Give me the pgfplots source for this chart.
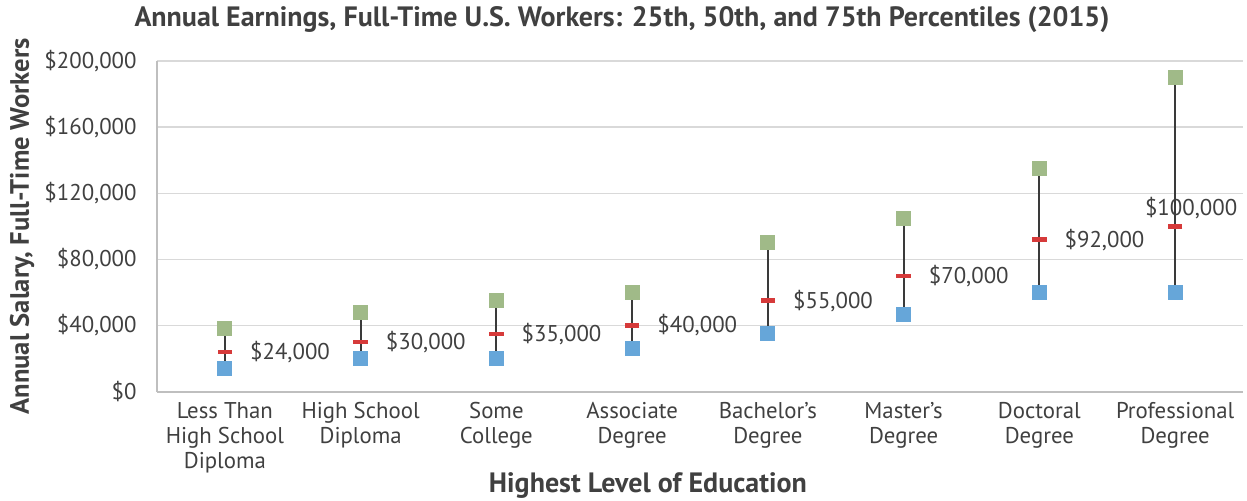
\documentclass[border=0pt]{standalone}
\usepackage{pgfplots}
\usepackage{pgfplotstable}
\pgfplotsset{compat=1.18}
\usepackage{fontspec}
\setmainfont{PT Sans}
\definecolor{txt}{HTML}{404040}
\definecolor{lowc}{HTML}{66A6D9}
\definecolor{highc}{HTML}{A0BA88}
\definecolor{medc}{HTML}{D63A3A}
\definecolor{linec}{HTML}{3A3A3A}
\definecolor{gridc}{HTML}{D9D9D9}
\definecolor{axc}{HTML}{BFBFBF}
\pgfplotstableread{
x low med high
0 14000 24000 38000
1 20000 30000 48000
2 20000 35000 55000
3 26000 40000 60000
4 35000 55000 90000
5 47000 70000 105000
6 60000 92000 135000
7 60000 100000 190000
}\data
\begin{document}
\begin{tikzpicture}
\useasboundingbox (-78.5pt,-54.15pt) rectangle (545pt,195.85pt);
\begin{axis}[
  at={(0,0)}, anchor=south west,
  scale only axis, width=543pt, height=165.35pt,
  xmin=-0.5, xmax=7.5, ymin=0, ymax=200000,
  axis x line*=bottom, axis y line*=left,
  axis line style={draw=axc, line width=1pt},
  xtick={0,...,7},
  xticklabels={{Less Than\\High School\\Diploma},{High School\\Diploma},{Some\\College},{Associate\\Degree},{Bachelor's\\Degree},{Master's\\Degree},{Doctoral\\Degree},{Professional\\Degree}},
  xticklabel style={align=center, font=\fontsize{11.4}{12.5}\selectfont, text=txt, inner sep=0pt, anchor=north, yshift=-5pt},
  ytick={0,40000,...,200000},
  scaled y ticks=false,
  yticklabel={\$\pgfmathprintnumber{\tick}},
  /pgf/number format/.cd, fixed, precision=0, 1000 sep={,}, assume math mode=true,
  /pgfplots/.cd,
  yticklabel style={font=\fontsize{11.4}{12.5}\selectfont, text=txt, inner sep=0pt, anchor=east, xshift=-10pt},
  major tick length=0pt,
  tick style={draw=none},
  ymajorgrids, grid style={draw=gridc, line width=0.75pt},
  title={Annual Earnings, Full-Time U.S. Workers: 25th, 50th, and 75th Percentiles (2015)},
  title style={at={(axis description cs:0.5,1)}, anchor=center, xshift=-39pt, yshift=14.5pt, font=\bfseries\fontsize{14}{16}\selectfont, text=txt},
  xlabel={Highest Level of Education},
  xlabel style={at={(axis description cs:0.5,0)}, anchor=center, xshift=-26pt, yshift=-47pt, font=\bfseries\fontsize{14}{16}\selectfont, text=txt},
  ylabel={Annual Salary, Full-Time Workers},
  ylabel style={at={([xshift=-67.5pt]axis description cs:0,0.5)}, anchor=center, font=\bfseries\fontsize{13.3}{15}\selectfont, text=txt},
]
\addplot[only marks, mark=square*, mark size=3.5pt, color=lowc, mark options={draw=lowc, fill=lowc}] table[x=x, y=low] {\data};
\addplot[only marks, mark=square*, mark size=3.5pt, color=highc, mark options={draw=highc, fill=highc}] table[x=x, y=high] {\data};
\addplot[draw=none, mark=none, error bars/.cd, y dir=plus, y explicit, error mark=none, error bar style={draw=linec, solid, line width=1pt}]
  table[x=x, y=low, y error plus expr=\thisrow{high}-\thisrow{low}] {\data};
\addplot[only marks, mark=-, mark size=3.6pt, mark options={draw=medc, line width=2.3pt}, skip coords between index={7}{8},
  nodes near coords={\$\pgfmathprintnumber{\pgfplotspointmeta}},
  point meta=explicit, 
  every node near coord/.append style={anchor=west, inner sep=0pt, xshift=11.5pt, text=txt, font=\fontsize{11.4}{12.5}\selectfont}]
  table[x=x, y=med, meta=med] {\data};
\addplot[only marks, mark=-, mark size=3.6pt, mark options={draw=medc, line width=2.3pt}, skip coords between index={0}{7},
  nodes near coords={\$\pgfmathprintnumber{\pgfplotspointmeta}},
  point meta=explicit,
  every node near coord/.append style={anchor=center, inner sep=0pt, xshift=8pt, yshift=9pt, text=txt, font=\fontsize{11.4}{12.5}\selectfont}]
  table[x=x, y=med, meta=med] {\data};
\end{axis}
\end{tikzpicture}
\end{document}
